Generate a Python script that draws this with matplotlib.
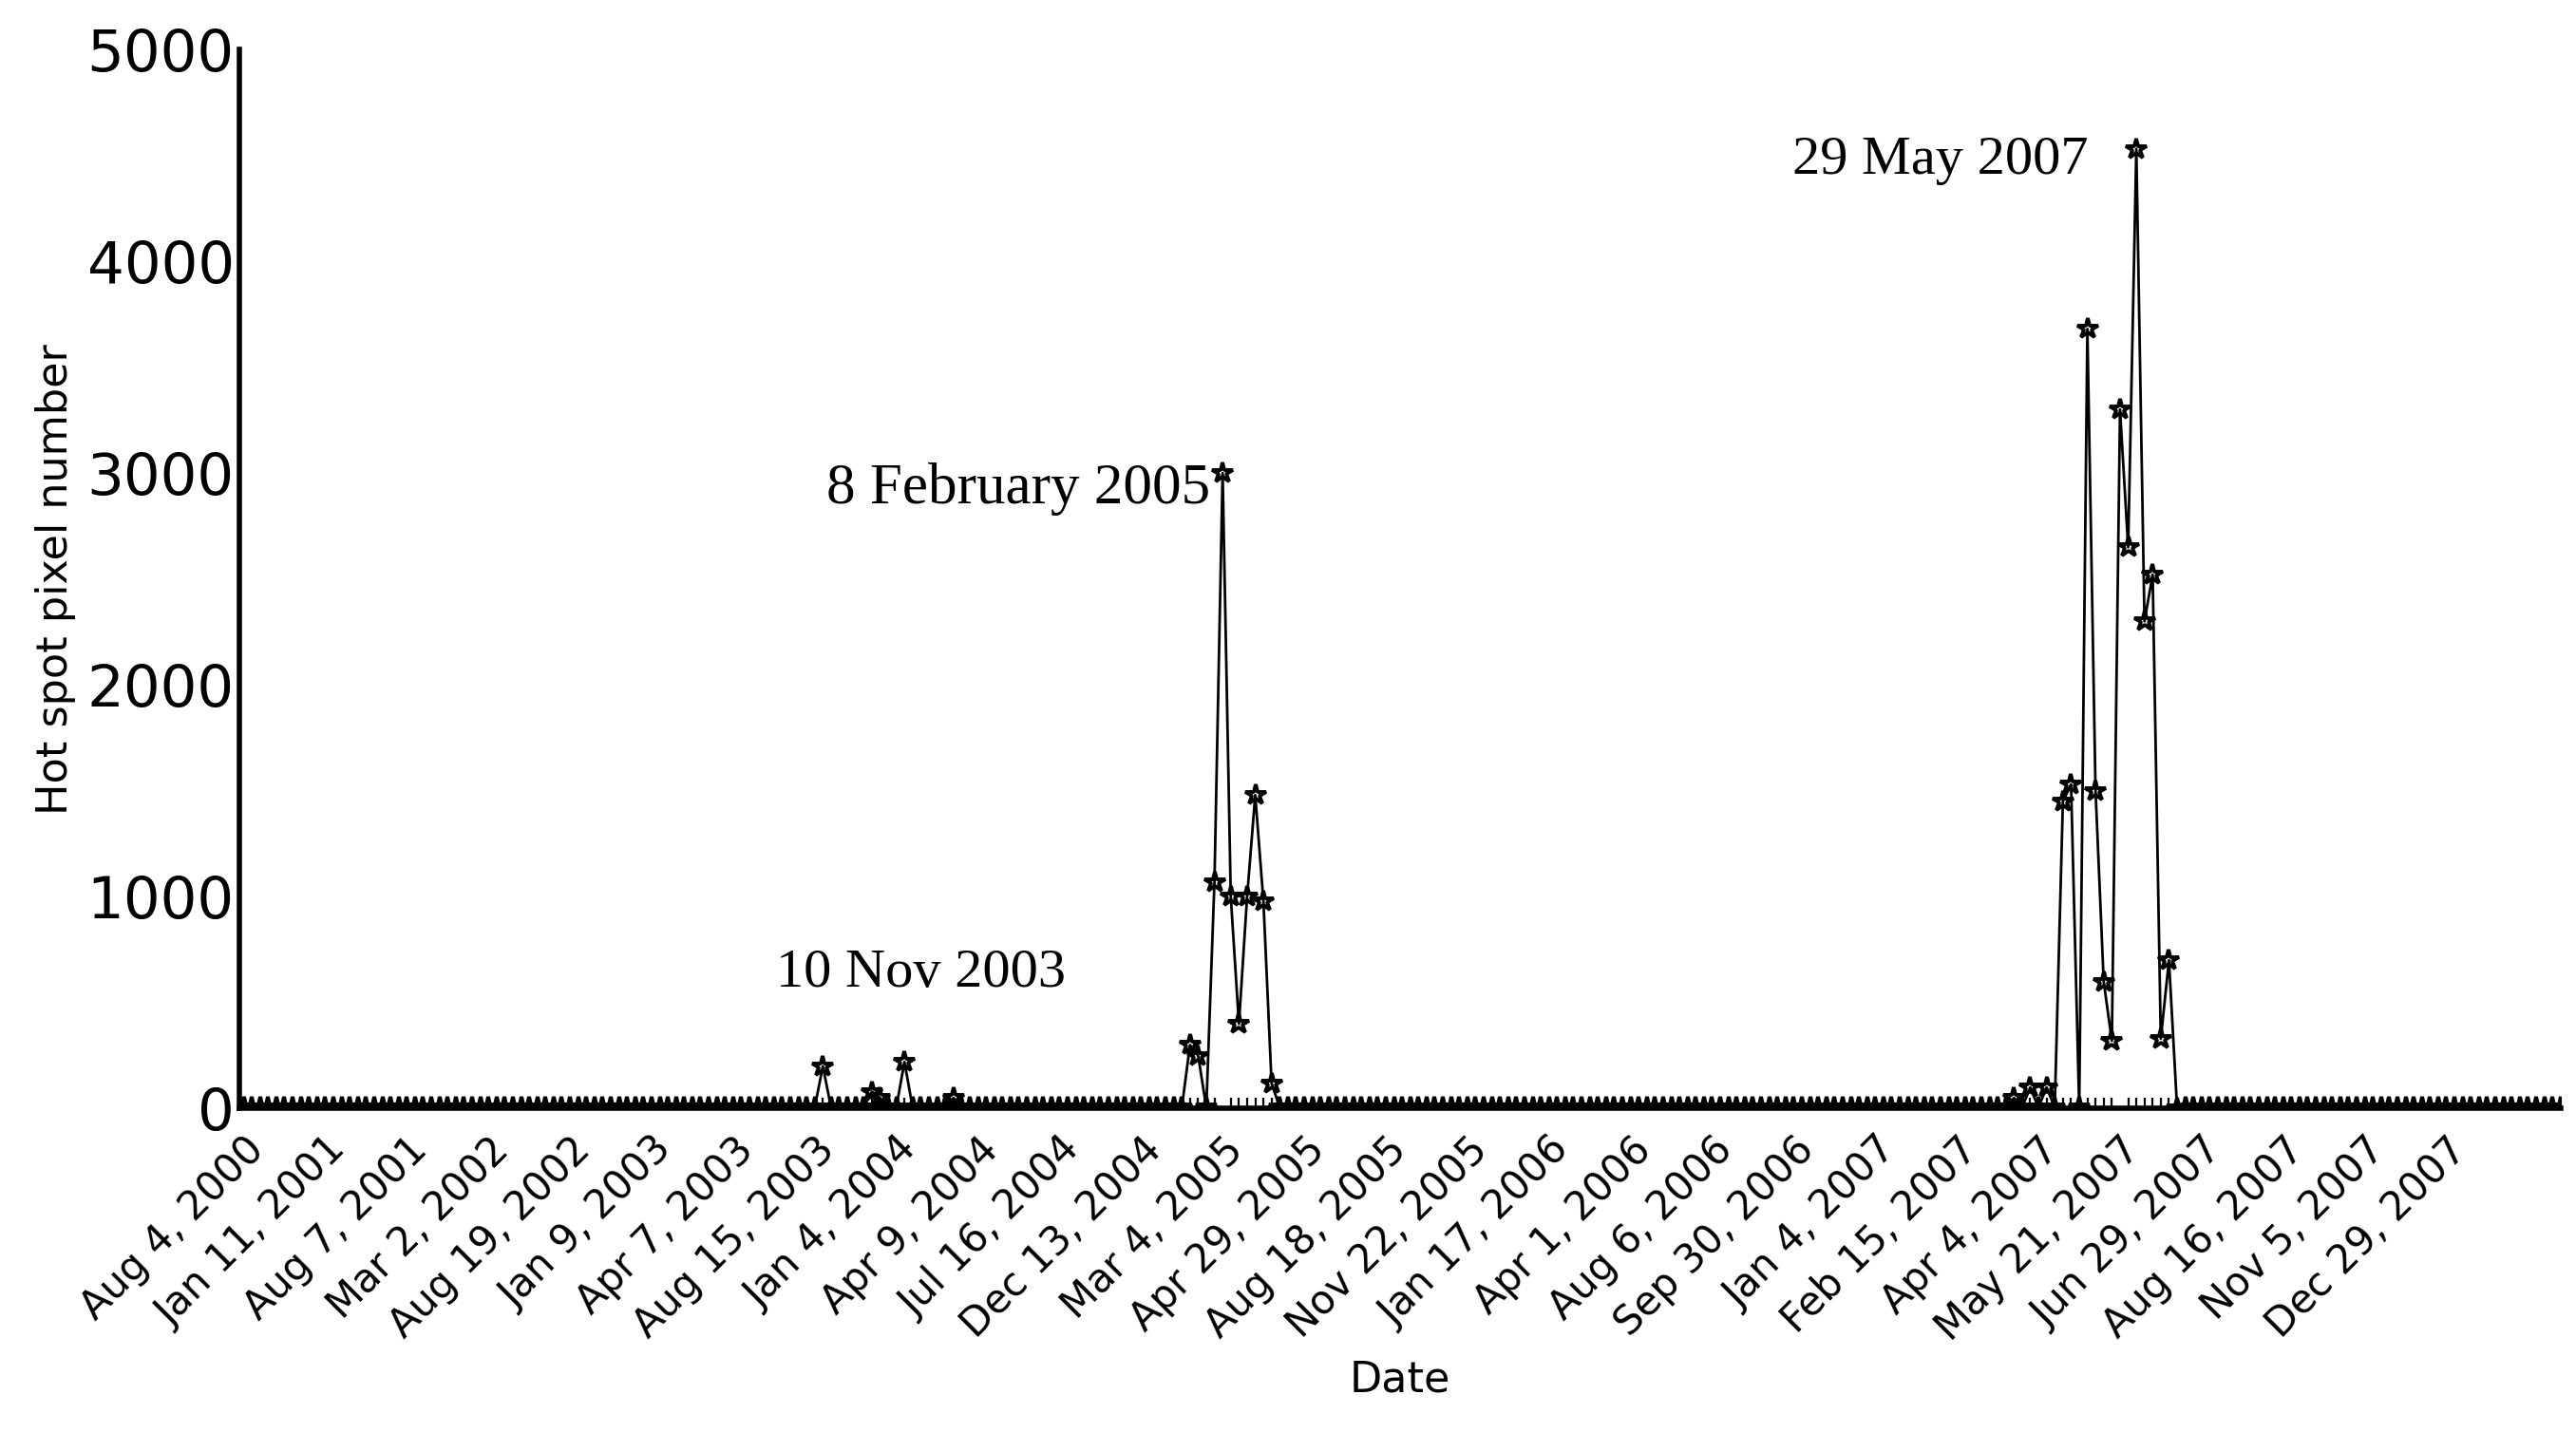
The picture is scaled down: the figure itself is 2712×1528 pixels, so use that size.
import matplotlib
matplotlib.use("Agg")
import matplotlib.pyplot as plt

n_points = 285
baseline = 5
event_idx = [71, 77, 78, 81, 87,
             116, 117, 119, 120, 121, 122, 123, 124, 125, 126,
             217, 219, 221, 223, 224, 226, 227, 228, 229, 230, 231, 232, 233, 234, 235, 236, 237]
event_val = [200, 80, 50, 220, 50,
             300, 250, 1070, 3000, 1000, 400, 1000, 1480, 980, 120,
             50, 100, 100, 1450, 1530, 3680, 1500, 600, 320, 3300, 2650, 4530, 2300, 2520, 330, 700, 0]
tick_labels = ["Aug 4, 2000", "Jan 11, 2001", "Aug 7, 2001", "Mar 2, 2002", "Aug 19, 2002",
               "Jan 9, 2003", "Apr 7, 2003", "Aug 15, 2003", "Jan 4, 2004", "Apr 9, 2004",
               "Jul 16, 2004", "Dec 13, 2004", "Mar 4, 2005", "Apr 29, 2005", "Aug 18, 2005",
               "Nov 22, 2005", "Jan 17, 2006", "Apr 1, 2006", "Aug 6, 2006", "Sep 30, 2006",
               "Jan 4, 2007", "Feb 15, 2007", "Apr 4, 2007", "May 21, 2007", "Jun 29, 2007",
               "Aug 16, 2007", "Nov 5, 2007", "Dec 29, 2007"]
tick_step = 10

values = [baseline] * n_points
for i, v in zip(event_idx, event_val):
    values[i] = v
x = list(range(n_points))

fig = plt.figure(figsize=(13.56, 7.64), dpi=200)
ax = fig.add_axes([0.093, 0.236, 0.901, 0.73])
ax.plot(x, values, color="black", lw=1.0, marker="*", ms=8, mfc="none", mec="black", mew=1.4)
ax.set_xlim(-0.5, n_points - 1)
ax.set_ylim(0, 5000)
ax.set_yticks(range(0, 5001, 1000))
ax.set_xticks([i * tick_step for i in range(len(tick_labels))])
ax.set_xticklabels(tick_labels, rotation=45, ha="right", rotation_mode="anchor", fontsize=15)
ax.tick_params(axis="y", labelsize=22, length=0, pad=2)
ax.tick_params(axis="x", length=0, pad=8)
ax.set_xticks(x, minor=True)
ax.tick_params(axis="x", which="minor", length=4, direction="in", width=0.8)
for s in ["top", "right"]:
    ax.spines[s].set_visible(False)
ax.spines["left"].set_linewidth(2)
ax.spines["bottom"].set_linewidth(2)
ax.set_xlabel("Date", fontsize=16, labelpad=4)
ax.set_ylabel("Hot spot pixel number", fontsize=16)
serif = "Liberation Serif"
ax.text(83, 520, "10 Nov 2003", family=serif, fontsize=21, ha="center", va="bottom")
ax.text(95, 2800, "8 February 2005", family=serif, fontsize=22, ha="center", va="bottom")
ax.text(208, 4360, "29 May 2007", family=serif, fontsize=21, ha="center", va="bottom")
fig.savefig("out.png")
